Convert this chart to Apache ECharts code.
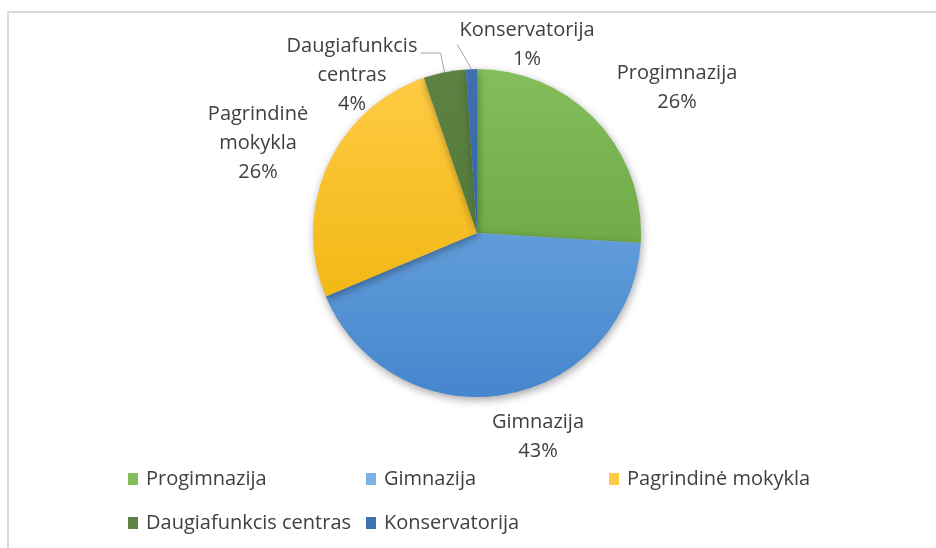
<!DOCTYPE html>
<html>
<head>
<meta charset="utf-8">
<script src="https://cdn.jsdelivr.net/npm/echarts@6/dist/echarts.min.js"></script>
<style>
  html, body { margin: 0; padding: 0; background: #fff; }
  #wrap { position: relative; width: 936px; height: 548px; overflow: hidden; }
  #frame {
    position: absolute; left: 7px; top: 11px; right: -4px; bottom: -4px;
    border-top: 2px solid #d9d9d9; border-left: 2px solid #d9d9d9;
  }
  #chart { position: absolute; left: 0; top: 0; width: 936px; height: 548px; }
</style>
</head>
<body>
<div id="wrap">
  <div id="frame"></div>
  <div id="chart"></div>
</div>
<script>
// kategorijos ir reikšmės (procentai)
const categories = ['Progimnazija', 'Gimnazija', 'Pagrindinė mokykla', 'Daugiafunkcis centras', 'Konservatorija']
const values = [26.2, 43.1, 26.3, 4.2, 1.1]
const labelNames = ['Progimnazija', 'Gimnazija', 'Pagrindinė\nmokykla', 'Daugiafunkcis\ncentras', 'Konservatorija']

// label centres (px) - Excel put them here
const labelPos = [[677, 88], [538, 437], [258, 143], [352, 75], [527, 45]]

const colorsTop = ['#84be5c', '#7cb3e6', '#ffcb45', '#5c8343', '#4070b0']
const colorsBottom = ['#5e9a35', '#4686ce', '#ebb000', '#4a6f33', '#2c5a98']

const font = '"Open Sans", "Noto Sans", sans-serif'
const fontSize = 20
const lineH = 29
const textColor = '#404040'
const CX = 477, CY = 233, R = 164

const grad = (i) => new echarts.graphic.LinearGradient(0, CY - R, 0, CY + R, [
  { offset: 0, color: colorsTop[i] },
  { offset: 1, color: colorsBottom[i] }
], true)

// text width of the first label line, for the leader line end
const ctx = document.createElement('canvas').getContext('2d')
ctx.font = fontSize + 'px ' + font
const firstLineWidth = (i) => ctx.measureText(labelNames[i].split('\n')[0]).width

// point on the pie edge in the middle of slice i
const total = values.reduce((a, b) => a + b, 0)
const edgePoint = (i) => {
  let before = 0
  for (let k = 0; k < i; k++) before += values[k]
  const a = (before + values[i] / 2) / total * Math.PI * 2
  return [CX + R * Math.sin(a), CY - R * Math.cos(a)]
}

const leader = (i) => {
  const [lx, ly] = labelPos[i]
  const lines = labelNames[i].split('\n').length + 1
  const firstY = ly - (lines - 1) * lineH / 2
  const p0 = edgePoint(i)
  const w = firstLineWidth(i)
  if (lx < p0[0] - w / 2 - 10) {
    // label left of the slice: go up then left
    const y1 = firstY + 7
    return [p0, [p0[0] - 4, y1], [lx + w / 2 + 3, y1]]
  }
  return [p0, [lx - w / 2 - 2, firstY + 14]]
}

const chart = echarts.init(document.getElementById('chart'))

const pieData = categories.map((name, i) => ({
  name,
  value: values[i],
  itemStyle: { color: grad(i) },
  labelLine: { show: i >= 3 }
}))

const legendCol = (left, names) => ({
  orient: 'vertical',
  left,
  top: 467,
  padding: 0,
  itemWidth: 10,
  itemHeight: 12,
  itemGap: 20,
  icon: 'rect',
  data: names,
  textStyle: { fontFamily: font, fontSize: fontSize, lineHeight: 24, color: textColor, padding: [0, 0, 0, 3] }
})

const option = {
  animation: false,
  legend: [
    legendCol(128, [categories[0], categories[3]]),
    legendCol(366, [categories[1], categories[4]]),
    legendCol(609, [categories[2]])
  ],
  series: [{
    type: 'pie',
    center: [CX, CY],
    radius: R,
    startAngle: 90,
    clockwise: true,
    data: pieData,
    itemStyle: {
      shadowBlur: 9,
      shadowOffsetX: 1,
      shadowOffsetY: 3,
      shadowColor: 'rgba(0,0,0,0.35)'
    },
    label: {
      show: true,
      position: 'outside',
      fontFamily: font,
      fontSize: fontSize,
      lineHeight: lineH,
      color: textColor,
      align: 'center',
      formatter: (p) => labelNames[p.dataIndex] + '\n' + Math.round(p.percent) + '%'
    },
    labelLine: {
      show: false,
      length: 10,
      length2: 10,
      lineStyle: { color: '#a6a6a6', width: 1 }
    },
    labelLayout: (p) => ({
      x: labelPos[p.dataIndex][0],
      y: labelPos[p.dataIndex][1],
      align: 'center',
      verticalAlign: 'middle',
      labelLinePoints: p.dataIndex >= 3 ? leader(p.dataIndex) : undefined
    })
  }]
}

chart.setOption(option)
</script>
</body>
</html>
